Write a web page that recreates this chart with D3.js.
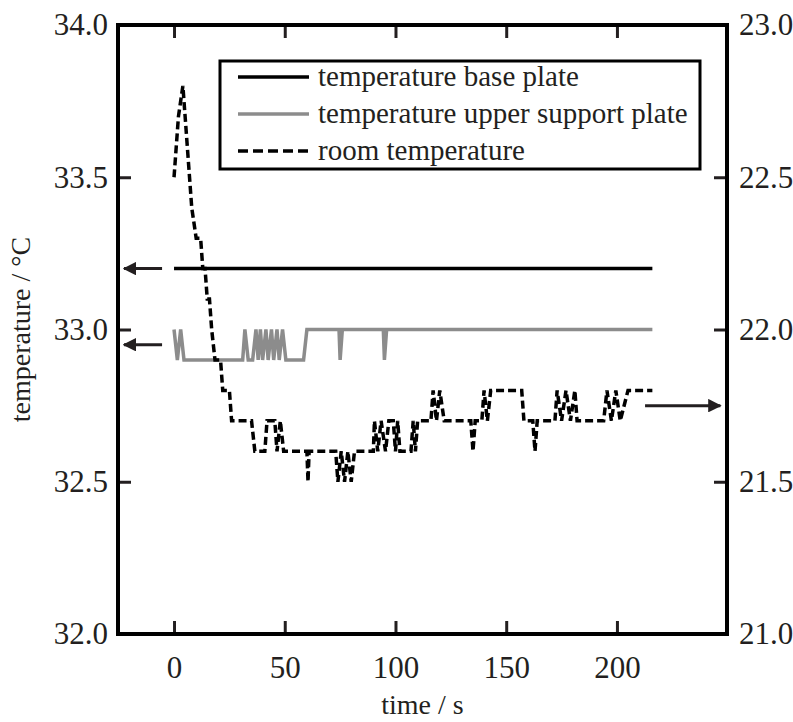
<!DOCTYPE html>
<html>
<head>
<meta charset="utf-8">
<script src="https://cdn.jsdelivr.net/npm/d3@7"></script>
<style>
  body { margin: 0; background: #fff; }
  svg text { font-family: "Liberation Serif", "Times New Roman", Times, serif; }
</style>
</head>
<body>
<svg id="chart" width="793" height="722"></svg>
<script>
// tick values
const timeTicks = [0, 50, 100, 150, 200];
const leftTicks = [32.0, 32.5, 33.0, 33.5, 34.0];
const rightTicks = [21.0, 21.5, 22.0, 22.5, 23.0];

// series [time s, temperature °C]
const basePlate = [[0, 33.2], [216, 33.2]];

const upperPlate = [
    [0, 33.0], [1.5, 32.9], [3, 33.0], [4.5, 32.9], [31, 32.9], [32, 33.0], [33.5, 32.9],
    [35.5, 32.9], [37, 33.0], [38, 32.9], [39, 33.0], [40, 32.9], [41.5, 33.0], [42.5, 32.9],
    [44, 33.0], [45, 32.9], [46.5, 33.0], [47.5, 32.9], [49, 33.0], [50.5, 32.9], [58.5, 32.9],
    [60, 33.0], [74.5, 33.0], [75, 32.9], [76, 33.0], [94.5, 33.0], [95, 32.9], [96, 33.0],
    [216, 33.0]
];

// room temperature, right axis
const roomTemp = [
    [0, 22.5], [2, 22.7], [4, 22.8], [6, 22.6], [8, 22.4], [10, 22.3], [12, 22.3], [13, 22.2],
    [14, 22.2], [15, 22.1], [16, 22.1], [17, 22.0], [18.5, 21.9], [21, 21.9], [22, 21.8],
    [25, 21.8], [26, 21.7], [35, 21.7], [36.5, 21.6], [41, 21.6], [42, 21.7], [45.5, 21.7],
    [46.5, 21.6], [48, 21.7], [49.5, 21.6], [60, 21.6], [60.5, 21.5], [61, 21.6], [73, 21.6],
    [74, 21.5], [75.5, 21.6], [77, 21.5], [78.5, 21.6], [80, 21.5], [81.5, 21.6], [90, 21.6],
    [90.5, 21.7], [92, 21.6], [93.5, 21.7], [95.5, 21.6], [97, 21.7], [99, 21.7], [100, 21.6],
    [101, 21.7], [102, 21.6], [107, 21.6], [108, 21.7], [109, 21.6], [110, 21.7], [116, 21.7],
    [117, 21.8], [118.5, 21.7], [120, 21.8], [122, 21.7], [134, 21.7], [135, 21.6], [136, 21.7],
    [139, 21.7], [140, 21.8], [141.5, 21.7], [143, 21.8], [157, 21.8], [158, 21.7], [162, 21.7],
    [163, 21.6], [164, 21.7], [172, 21.7], [173, 21.8], [175, 21.7], [177, 21.8], [179, 21.7],
    [181, 21.8], [182, 21.7], [194, 21.7], [195.5, 21.8], [197.5, 21.7], [199.5, 21.8],
    [201.5, 21.7], [205, 21.8], [216, 21.8]
];

// arrows pointing to the axis each curve belongs to: [t from, t to, value, axis]
const arrows = [
    [-5.4, -22.6, 33.2, "left"],
    [-5.4, -22.6, 32.95, "left"],
    [212.7, 246.7, 21.75, "right"]
];

const legendItems = [
    { label: "temperature base plate", color: "#000", dash: null },
    { label: "temperature upper support plate", color: "#8c8c8c", dash: null },
    { label: "room temperature", color: "#000", dash: "10,5" }
];

const ink = "#231f20";

const svg = d3.select("#chart");
const box = { left: 118, right: 727, top: 25, bottom: 634 };

const x = d3.scaleLinear().domain([-25.3, 249.7]).range([box.left, box.right]);
const yL = d3.scaleLinear().domain([32, 34]).range([box.bottom, box.top]);
const yR = d3.scaleLinear().domain([21, 23]).range([box.bottom, box.top]);

// axes, ticks point inward
const fmt = d3.format(".1f");
const xAxisB = svg.append("g").attr("transform", `translate(0,${box.bottom})`)
    .call(d3.axisBottom(x).tickValues(timeTicks).tickSize(-13).tickPadding(22));
const xAxisT = svg.append("g").attr("transform", `translate(0,${box.top})`)
    .call(d3.axisTop(x).tickValues(timeTicks).tickSize(-13).tickFormat(""));
const yAxisL = svg.append("g").attr("transform", `translate(${box.left},0)`)
    .call(d3.axisLeft(yL).tickValues(leftTicks).tickFormat(fmt).tickSize(-13).tickPadding(10));
const yAxisR = svg.append("g").attr("transform", `translate(${box.right},0)`)
    .call(d3.axisRight(yR).tickValues(rightTicks).tickFormat(fmt).tickSize(-13).tickPadding(12));

[xAxisB, xAxisT, yAxisL, yAxisR].forEach(g => {
    g.select(".domain").remove();
    g.attr("font-family", null).attr("font-size", 31);
    g.selectAll("line").attr("stroke", ink).attr("stroke-width", 3);
    g.selectAll("text").attr("fill", ink);
});

// frame
svg.append("rect")
    .attr("x", box.left).attr("y", box.top)
    .attr("width", box.right - box.left).attr("height", box.bottom - box.top)
    .attr("fill", "none").attr("stroke", "#000").attr("stroke-width", 4);

// curves
const lineL = d3.line().x(d => x(d[0])).y(d => yL(d[1]));
const lineR = d3.line().x(d => x(d[0])).y(d => yR(d[1]));

svg.append("path").datum(upperPlate).attr("d", lineL)
    .attr("fill", "none").attr("stroke", "#8c8c8c").attr("stroke-width", 3.5);
svg.append("path").datum(basePlate).attr("d", lineL)
    .attr("fill", "none").attr("stroke", "#000").attr("stroke-width", 3.5);
svg.append("path").datum(roomTemp).attr("d", lineR)
    .attr("fill", "none").attr("stroke", "#000").attr("stroke-width", 3.5)
    .attr("stroke-dasharray", "8,4");

// arrows
svg.append("defs").append("marker")
    .attr("id", "head").attr("viewBox", "0 0 10 10")
    .attr("refX", 9).attr("refY", 5)
    .attr("markerWidth", 4.5).attr("markerHeight", 4.5)
    .attr("orient", "auto")
    .append("path").attr("d", "M0,0 L10,5 L0,10 Z").attr("fill", ink);

svg.selectAll(".arrow")
    .data(arrows)
    .join("line")
    .attr("class", "arrow")
    .attr("x1", d => x(d[0])).attr("x2", d => x(d[1]))
    .attr("y1", d => (d[3] === "left" ? yL : yR)(d[2]))
    .attr("y2", d => (d[3] === "left" ? yL : yR)(d[2]))
    .attr("stroke", ink).attr("stroke-width", 3)
    .attr("marker-end", "url(#head)");

// legend
const legend = svg.append("g");
legend.append("rect")
    .attr("x", 220).attr("y", 61).attr("width", 480).attr("height", 108)
    .attr("fill", "#fff").attr("stroke", "#000").attr("stroke-width", 3);

legendItems.forEach((d, i) => {
    const ly = 77 + i * 37;
    legend.append("line")
        .attr("x1", 238).attr("x2", 309).attr("y1", ly).attr("y2", ly)
        .attr("stroke", d.color).attr("stroke-width", 3.5)
        .attr("stroke-dasharray", d.dash);
    legend.append("text")
        .attr("x", 318).attr("y", ly).attr("dy", "0.32em")
        .attr("font-size", 29).attr("fill", ink)
        .text(d.label);
});

// axis titles
svg.append("text")
    .attr("x", (box.left + box.right) / 2).attr("y", 714)
    .attr("text-anchor", "middle")
    .attr("font-size", 28).attr("fill", ink)
    .text("time / s");

svg.append("text")
    .attr("transform", `translate(30,${(box.top + box.bottom) / 2}) rotate(-90)`)
    .attr("text-anchor", "middle")
    .attr("font-size", 28).attr("fill", ink)
    .text("temperature / °C");
</script>
</body>
</html>
